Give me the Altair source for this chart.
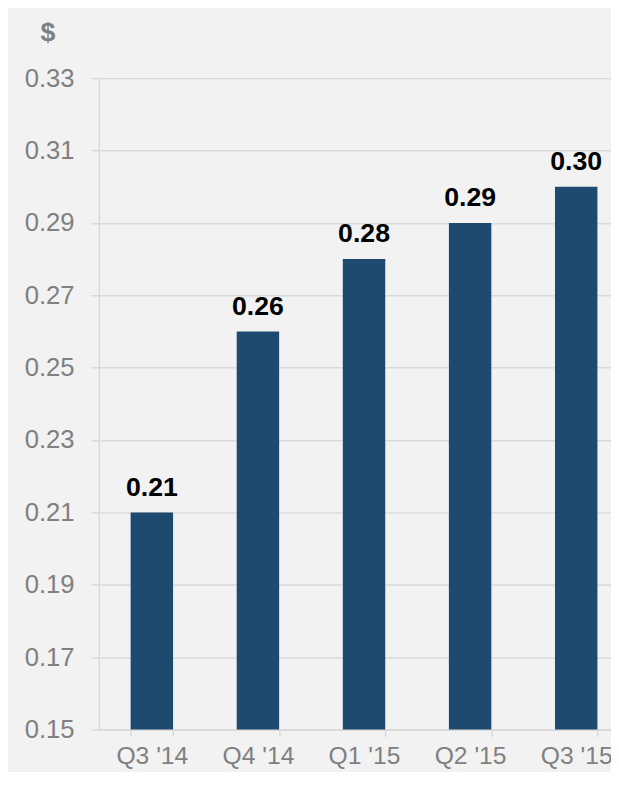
import altair as alt
import pandas as pd

quarters = ["Q3 '14", "Q4 '14", "Q1 '15", "Q2 '15", "Q3 '15"]
values = [0.21, 0.26, 0.28, 0.29, 0.30]
y_ticks = [0.15, 0.17, 0.19, 0.21, 0.23, 0.25, 0.27, 0.29, 0.31, 0.33]

df = pd.DataFrame({"quarter": quarters, "value": values})

FONT = "Liberation Sans"
GRID = "#d9d9d9"
LABEL = "#808080"

x = alt.X(
    "quarter:N",
    sort=quarters,
    title=None,
    scale=alt.Scale(range=[0, 537.5], paddingInner=0.6, paddingOuter=0.3),
    axis=alt.Axis(
        labelAngle=0,
        labelFont=FONT,
        labelFontSize=25,
        labelColor=LABEL,
        labelPadding=7,
        tickSize=7,
        tickColor=GRID,
        tickBand="extent",
        domainColor=GRID,
        domainWidth=1.5,
        tickWidth=1.5,
        grid=False,
        labelOverlap=False,
    ),
)

y = alt.Y(
    "value:Q",
    scale=alt.Scale(domain=[0.15, 0.33], zero=False, nice=False),
    axis=alt.Axis(
        values=y_ticks,
        format=".2f",
        title="$",
        titleAngle=0,
        titleAlign="center",
        titleBaseline="alphabetic",
        titleX=-52,
        titleY=-38,
        titleFont=FONT,
        titleFontSize=27,
        titleFontWeight="bold",
        titleColor=LABEL,
        labelFont=FONT,
        labelFontSize=26,
        labelColor=LABEL,
        labelPadding=17,
        tickSize=8,
        tickColor=GRID,
        tickWidth=1.5,
        domainColor=GRID,
        domainWidth=1.5,
        gridColor=GRID,
        gridWidth=1.5,
    ),
)

base = alt.Chart(df)

bars = base.mark_bar(color="#1F4A6F").encode(
    x=x,
    y=y,
    y2=alt.datum(0.15),
)

labels = base.mark_text(
    font=FONT,
    fontSize=27,
    fontWeight="bold",
    color="#000000",
    baseline="alphabetic",
    dy=-17,
).encode(
    x=alt.X("quarter:N", sort=quarters),
    y=alt.Y("value:Q"),
    text=alt.Text("value:Q", format=".2f"),
)

chart = (
    alt.layer(bars, labels)
    .properties(
        width=519,
        height=660,
        background="#f2f2f2",
        padding={"left": 92, "top": 66, "right": 0, "bottom": 38},
        autosize=alt.AutoSizeParams(type="none"),
    )
    .configure_view(stroke=None)
)

chart.save("out.html", embed_options={"renderer": "svg", "actions": False})
